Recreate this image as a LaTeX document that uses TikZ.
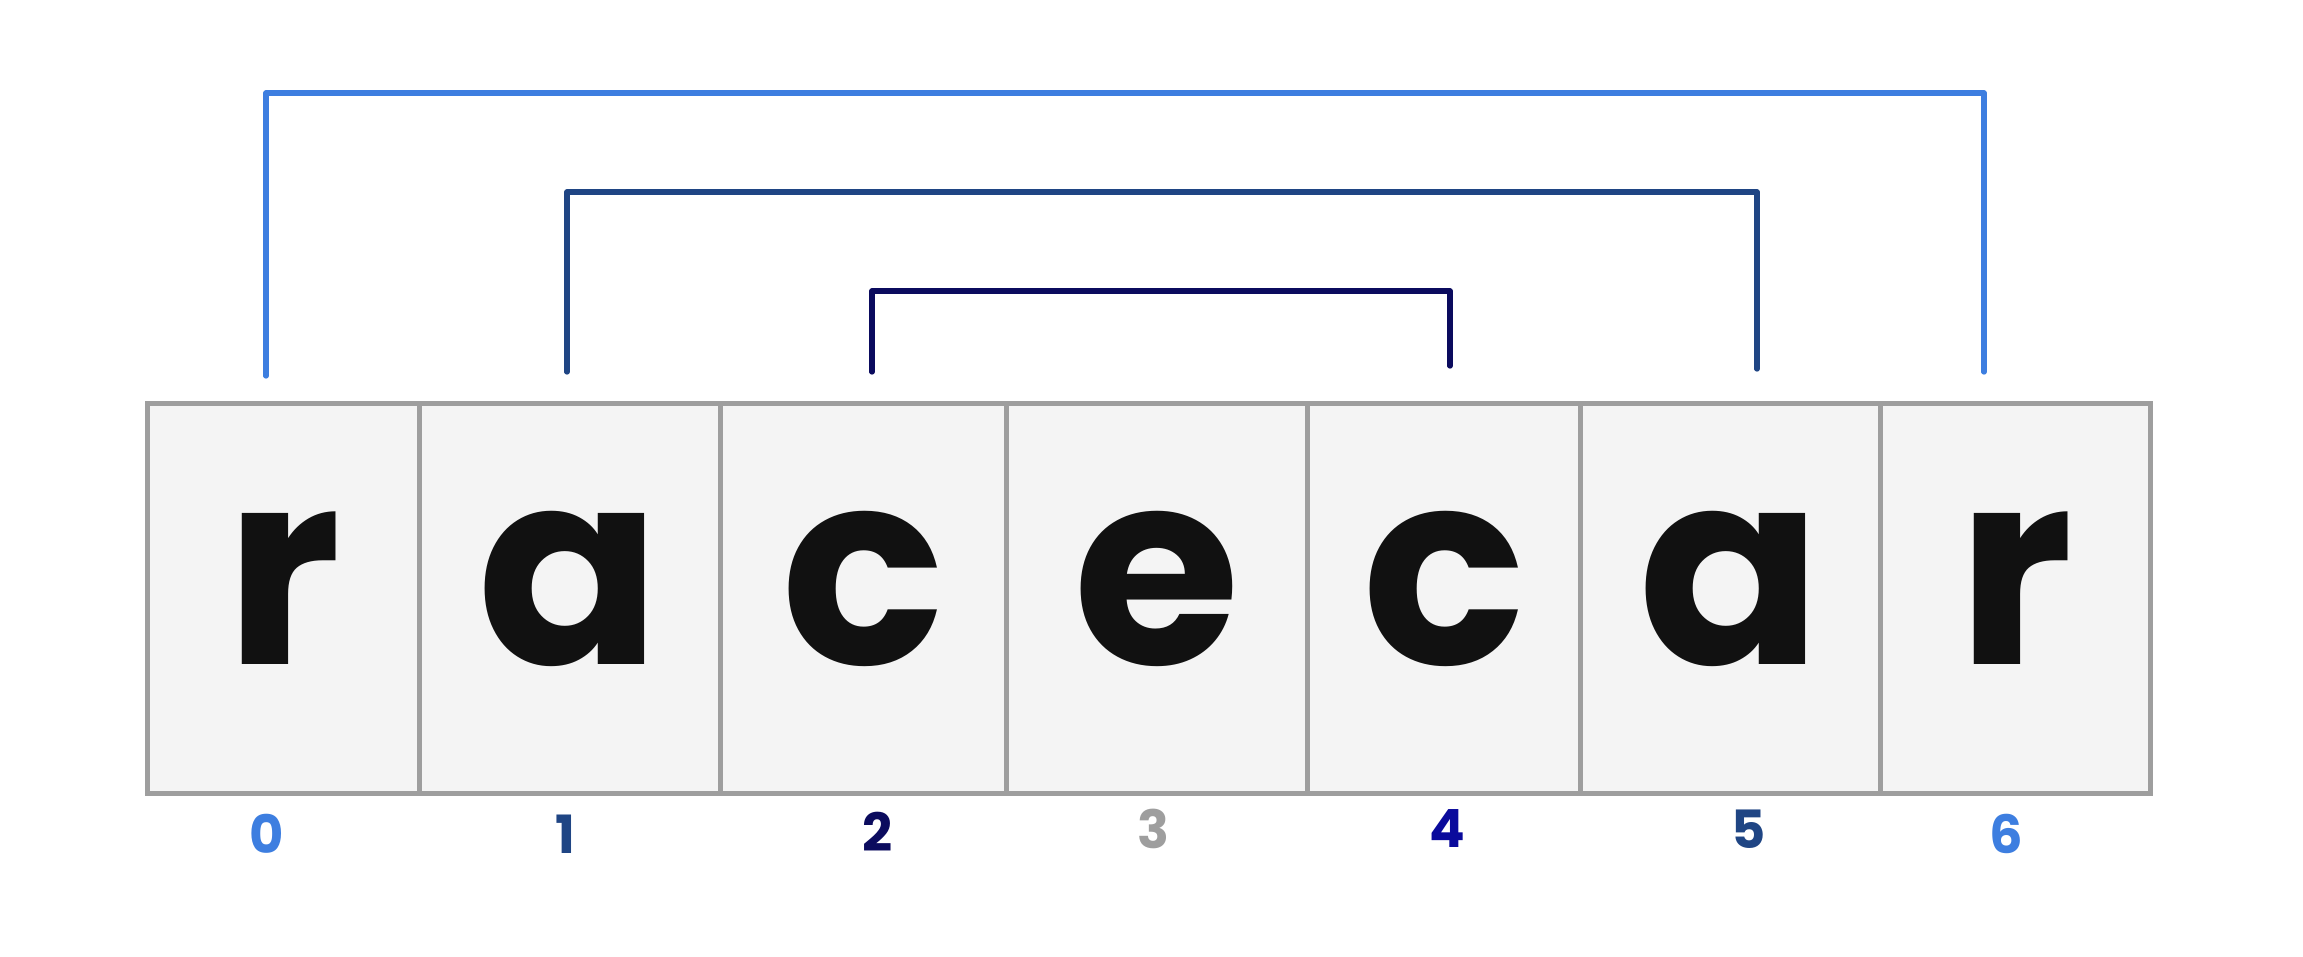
\documentclass[tikz,border=0pt]{standalone}
\usepackage{fontspec}
\setmainfont{Poppins}
\usetikzlibrary{positioning}

\definecolor{sky}{RGB}{61,126,224}
\definecolor{steel}{RGB}{31,69,132}
\definecolor{navy}{RGB}{11,11,94}
\definecolor{deep}{RGB}{10,10,156}
\definecolor{cellgray}{RGB}{158,158,158}
\definecolor{cellfill}{RGB}{244,244,244}
\definecolor{ink}{RGB}{17,17,17}

\begin{document}
\begin{tikzpicture}[x=0.01cm,y=-0.01cm,
    cell/.style={draw=cellgray,fill=cellfill,line width=1.4pt,minimum height=3.89cm,
      inner sep=0pt,outer sep=0pt,text=ink,font=\fontsize{77}{77}\selectfont\bfseries,
      text height=1.61cm,text depth=0.3cm},
    span/.style={line width=1.5pt,line cap=round,line join=round},
    idx/.style={font=\fontsize{15}{15}\selectfont\bfseries}]
   \useasboundingbox[fill=white] (0,0) rectangle (2303,956);

   % the word, one cell per letter
   \node[cell,minimum width=2.71cm] (c0) at (283.5,598.5) {r};
   \node[cell,minimum width=3.01cm] (c1) [right=0pt of c0] {a};
   \node[cell,minimum width=2.86cm] (c2) [right=0pt of c1] {c};
   \node[cell,minimum width=3.01cm] (c3) [right=0pt of c2] {e};
   \node[cell,minimum width=2.73cm] (c4) [right=0pt of c3] {c};
   \node[cell,minimum width=3.00cm] (c5) [right=0pt of c4] {a};
   \node[cell,minimum width=2.69cm] (c6) [right=0pt of c5] {r};

   % indices
   \node[idx,text=sky]      (n0) at (267,834)  {0};
   \node[idx,text=steel]    (n1) at (565,834)  {1};
   \node[idx,text=navy]     (n2) at (878,832)  {2};
   \node[idx,text=cellgray] (n3) at (1153,829) {3};
   \node[idx,text=deep]     (n4) at (1447,828) {4};
   \node[idx,text=steel]    (n5) at (1749,829) {5};
   \node[idx,text=sky]      (n6) at (2006,834) {6};

   % bracket ends
   \coordinate (o0) at (266,376);
   \coordinate (o6) at (1984,372);
   \coordinate (m1) at (567,372);
   \coordinate (m5) at (1757,369);
   \coordinate (i2) at (872,372);
   \coordinate (i4) at (1450,366);

   \draw[span,sky]   (o0) -- ++(0,-283) -| (o6);
   \draw[span,steel] (m1) -- ++(0,-180) -| (m5);
   \draw[span,navy]  (i2) -- ++(0,-81)  -| (i4);
\end{tikzpicture}
\end{document}
